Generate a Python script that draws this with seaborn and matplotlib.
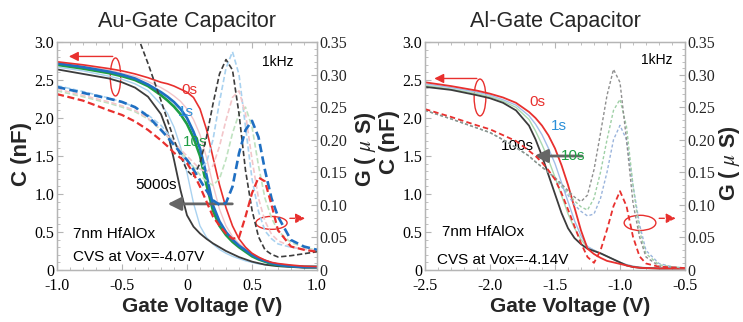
import numpy as np
import pandas as pd
import matplotlib
matplotlib.use("Agg")
import matplotlib.pyplot as plt
import seaborn as sns
from matplotlib.patches import Ellipse
from matplotlib.ticker import MultipleLocator

# ------------------------------------------------------------------ data
titles = ["Au-Gate Capacitor", "Al-Gate Capacitor"]
xticks_au = [-1.0, -0.5, 0.0, 0.5, 1.0]
xticklabels_au = ["-1.0", "-0.5", "0", "0.5", "1.0"]
xticks_al = [-2.5, -2.0, -1.5, -1.0, -0.5]
xticklabels_al = ["-2.5", "-2.0", "-1.5", "-1.0", "-0.5"]
cticks = [0, 0.5, 1.0, 1.5, 2.0, 2.5, 3.0]
cticklabels = ["0", "0.5", "1.0", "1.5", "2.0", "2.5", "3.0"]
gticks = [0, 0.05, 0.10, 0.15, 0.20, 0.25, 0.30, 0.35]
gticklabels = ["0", "0.05", "0.10", "0.15", "0.20", "0.25", "0.30", "0.35"]

# Au gate (left) -- gate voltage grid
V_au = [-1.0, -0.8, -0.6, -0.5, -0.4, -0.3, -0.2, -0.15, -0.1, -0.05, 0.0, 0.05, 0.1, 0.15,
        0.2, 0.25, 0.3, 0.35, 0.4, 0.45, 0.5, 0.55, 0.6, 0.65, 0.7, 0.8, 0.9, 1.0]
C_au_0s = [2.74, 2.70, 2.65, 2.62, 2.58, 2.53, 2.47, 2.45, 2.42, 2.38, 2.34, 2.27, 2.12, 1.85,
           1.48, 1.12, 0.82, 0.58, 0.41, 0.30, 0.22, 0.17, 0.13, 0.10, 0.085, 0.065, 0.05, 0.045]
C_au_1s = [2.72, 2.67, 2.61, 2.57, 2.52, 2.44, 2.34, 2.28, 2.21, 2.12, 2.00, 1.82, 1.60, 1.25,
           0.85, 0.64, 0.50, 0.40, 0.32, 0.26, 0.20, 0.15, 0.12, 0.09, 0.07, 0.05, 0.04, 0.04]
C_au_10s = [2.70, 2.65, 2.59, 2.55, 2.50, 2.42, 2.30, 2.23, 2.15, 2.05, 1.92, 1.74, 1.50, 1.12,
            0.78, 0.58, 0.46, 0.37, 0.30, 0.24, 0.18, 0.14, 0.11, 0.08, 0.065, 0.05, 0.04, 0.04]
C_au_100s = [2.67, 2.62, 2.55, 2.51, 2.45, 2.36, 2.18, 2.06, 1.88, 1.62, 1.28, 0.88, 0.58, 0.43,
             0.34, 0.27, 0.22, 0.18, 0.15, 0.12, 0.10, 0.08, 0.07, 0.06, 0.05, 0.04, 0.04, 0.035]
C_au_1000s = [2.73, 2.69, 2.63, 2.59, 2.55, 2.48, 2.40, 2.35, 2.29, 2.22, 2.12, 1.98, 1.78, 1.48,
              1.12, 0.80, 0.58, 0.44, 0.35, 0.28, 0.22, 0.17, 0.13, 0.10, 0.08, 0.06, 0.05, 0.045]
C_au_5000s = [2.64, 2.58, 2.52, 2.47, 2.40, 2.28, 2.05, 1.82, 1.45, 1.05, 0.72, 0.57, 0.48, 0.41,
              0.35, 0.30, 0.25, 0.21, 0.17, 0.14, 0.11, 0.09, 0.07, 0.06, 0.05, 0.04, 0.03, 0.03]
G_au_0s = [0.270, 0.260, 0.245, 0.238, 0.228, 0.215, 0.199, 0.190, 0.180, 0.172, 0.164, 0.148,
           0.128, 0.105, 0.082, 0.068, 0.056, 0.048, 0.050, 0.082, 0.118, 0.142, 0.136, 0.100,
           0.061, 0.036, 0.031, 0.028]
G_au_1s = [0.281, 0.272, 0.263, 0.258, 0.250, 0.236, 0.215, 0.204, 0.192, 0.180, 0.169, 0.154,
           0.138, 0.122, 0.107, 0.100, 0.103, 0.128, 0.179, 0.215, 0.229, 0.204, 0.153, 0.110,
           0.082, 0.046, 0.036, 0.031]
G_au_5000s = [np.nan, np.nan, np.nan, np.nan, 0.370, 0.317, 0.260, 0.230, 0.200, 0.175, 0.153,
              0.143, 0.164, 0.204, 0.255, 0.301, 0.323, 0.307, 0.240, 0.153, 0.092, 0.051,
              0.031, 0.024, 0.020, 0.022, 0.025, 0.028]
G_au_100s = [0.283, 0.274, 0.264, 0.258, 0.250, 0.238, 0.222, 0.210, 0.195, 0.180, 0.168, 0.158,
             0.155, 0.165, 0.200, 0.258, 0.310, 0.335, 0.300, 0.220, 0.140, 0.090, 0.060, 0.048,
             0.040, 0.035, 0.032, 0.030]
G_au_10s = [0.275, 0.266, 0.256, 0.250, 0.243, 0.232, 0.215, 0.205, 0.195, 0.183, 0.170, 0.158,
            0.146, 0.136, 0.130, 0.140, 0.170, 0.210, 0.240, 0.250, 0.220, 0.160, 0.110, 0.080,
            0.060, 0.042, 0.035, 0.030]
G_au_1000s = [0.278, 0.268, 0.258, 0.252, 0.245, 0.233, 0.216, 0.206, 0.196, 0.185, 0.175, 0.165,
              0.155, 0.150, 0.160, 0.190, 0.230, 0.265, 0.275, 0.240, 0.170, 0.110, 0.075, 0.055,
              0.045, 0.036, 0.032, 0.030]

# Al gate (right)
V_al = [-2.5, -2.3, -2.1, -2.0, -1.9, -1.8, -1.7, -1.65, -1.6, -1.55, -1.5, -1.45, -1.4, -1.35,
        -1.3, -1.25, -1.2, -1.15, -1.1, -1.05, -1.0, -0.95, -0.9, -0.85, -0.8, -0.7, -0.6, -0.5]
C_al_0s = [2.47, 2.42, 2.36, 2.32, 2.27, 2.20, 2.08, 2.00, 1.90, 1.77, 1.60, 1.38, 1.12, 0.82,
           0.52, 0.28, 0.21, 0.16, 0.12, 0.10, 0.08, 0.06, 0.04, 0.03, 0.025, 0.02, 0.02, 0.02]
C_al_1s = [2.45, 2.40, 2.34, 2.30, 2.24, 2.17, 2.03, 1.92, 1.78, 1.60, 1.40, 1.15, 0.90, 0.65,
           0.45, 0.31, 0.26, 0.22, 0.18, 0.14, 0.10, 0.07, 0.05, 0.035, 0.03, 0.02, 0.02, 0.02]
C_al_10s = [2.43, 2.38, 2.32, 2.28, 2.22, 2.14, 1.98, 1.83, 1.65, 1.45, 1.22, 0.98, 0.74, 0.55,
            0.40, 0.30, 0.26, 0.22, 0.18, 0.14, 0.10, 0.07, 0.05, 0.035, 0.03, 0.02, 0.02, 0.02]
C_al_100s = [2.41, 2.37, 2.30, 2.26, 2.20, 2.10, 1.90, 1.72, 1.50, 1.25, 1.00, 0.75, 0.55, 0.42,
             0.34, 0.28, 0.25, 0.22, 0.18, 0.14, 0.10, 0.06, 0.04, 0.03, 0.025, 0.02, 0.02, 0.02]
G_al_0s = [0.247, 0.235, 0.222, 0.216, 0.207, 0.198, 0.183, 0.175, 0.165, 0.153, 0.139, 0.118,
           0.093, 0.067, 0.041, 0.020, 0.011, 0.030, 0.062, 0.098, 0.121, 0.098, 0.051, 0.021,
           0.010, 0.005, 0.004, 0.003]
G_al_1s = [0.245, 0.232, 0.218, 0.211, 0.200, 0.188, 0.175, 0.166, 0.158, 0.150, 0.140, 0.128,
           0.115, 0.100, 0.090, 0.083, 0.086, 0.110, 0.150, 0.200, 0.222, 0.200, 0.130, 0.070,
           0.030, 0.010, 0.005, 0.003]
G_al_10s = [0.245, 0.232, 0.218, 0.211, 0.200, 0.188, 0.175, 0.166, 0.158, 0.150, 0.141, 0.130,
            0.119, 0.106, 0.097, 0.092, 0.110, 0.150, 0.200, 0.245, 0.262, 0.220, 0.130, 0.060,
            0.025, 0.008, 0.005, 0.003]
G_al_100s = [0.245, 0.232, 0.218, 0.211, 0.200, 0.188, 0.175, 0.166, 0.158, 0.150, 0.142, 0.132,
             0.122, 0.112, 0.105, 0.115, 0.154, 0.210, 0.268, 0.308, 0.288, 0.200, 0.103, 0.051,
             0.020, 0.006, 0.004, 0.003]

# ------------------------------------------------------------------ style
sns.set_style("ticks")
plt.rcParams["font.family"] = ["Liberation Sans", "DejaVu Sans"]
plt.rcParams["mathtext.fontset"] = "stix"

RED = "#e8302e"
BLUE = "#1f6fc2"
GREEN = "#1e9e44"
DARK = "#3c3c3c"
LBLUE = "#a9d2f0"
LPINK = "#f3c6ca"
LGREEN = "#bfe2c0"
SPINE = "#b5b5b5"
SERIF = ["Liberation Serif", "DejaVu Serif"]

fig = plt.figure(figsize=(7.43, 3.22), dpi=100)
axL = fig.add_axes([57 / 743, 52 / 322, 260 / 743, 228 / 322])
axR = fig.add_axes([425 / 743, 52 / 322, 260 / 743, 228 / 322])
axL2 = axL.twinx()
axR2 = axR.twinx()


def line(ax, x, y, color, lw, dashed=False, dash=(3.2, 1.6)):
    df = pd.DataFrame({"V": x, "y": y})
    sns.lineplot(data=df, x="V", y="y", ax=ax, color=color, lw=lw,
                 legend=False, sort=False, estimator=None)
    if dashed:
        ax.lines[-1].set_dashes(dash)


# ---- left panel
line(axL, V_au, C_au_100s, LBLUE, 1.0)
line(axL, V_au, C_au_1000s, LPINK, 1.0)
line(axL, V_au, C_au_5000s, DARK, 1.3)
line(axL, V_au, C_au_10s, GREEN, 1.9)
line(axL, V_au, C_au_1s, BLUE, 1.9)
line(axL, V_au, C_au_0s, RED, 1.2)
line(axL2, V_au, G_au_100s, LBLUE, 1.2, dashed=True)
line(axL2, V_au, G_au_10s, LGREEN, 1.2, dashed=True)
line(axL2, V_au, G_au_1000s, LPINK, 1.2, dashed=True)
line(axL2, V_au, G_au_5000s, DARK, 1.2, dashed=True)
line(axL2, V_au, G_au_1s, BLUE, 1.9, dashed=True)
line(axL2, V_au, G_au_0s, RED, 1.6, dashed=True)

# ---- right panel
line(axR, V_al, C_al_10s, "#a9d9ae", 1.0)
line(axR, V_al, C_al_1s, "#a3bfe8", 1.0)
line(axR, V_al, C_al_100s, DARK, 1.3)
line(axR, V_al, C_al_0s, RED, 1.3)
line(axR2, V_al, G_al_1s, "#9ab4dc", 1.0, dashed=True, dash=(2.2, 1.6))
line(axR2, V_al, G_al_10s, "#9fd0a6", 1.0, dashed=True, dash=(2.2, 1.6))
line(axR2, V_al, G_al_100s, "#8f8f8f", 1.0, dashed=True, dash=(2.2, 1.6))
line(axR2, V_al, G_al_0s, RED, 1.3, dashed=True, dash=(3.0, 1.8))

# ---- axes formatting
for ax, ax2, xt, xtl, xl in [(axL, axL2, xticks_au, xticklabels_au, (-1.0, 1.0)),
                             (axR, axR2, xticks_al, xticklabels_al, (-2.5, -0.5))]:
    ax.set_xlim(*xl)
    ax.set_ylim(0, 3.0)
    ax2.set_ylim(0, 0.35)
    ax.set_xticks(xt)
    ax.set_xticklabels(xtl, fontfamily=SERIF, fontsize=11.5)
    ax.set_yticks(cticks)
    ax.set_yticklabels(cticklabels, fontfamily=SERIF, fontsize=11.5)
    ax2.set_yticks(gticks)
    ax2.set_yticklabels(gticklabels, fontfamily=SERIF, fontsize=11.5)
    ax.xaxis.set_minor_locator(MultipleLocator(0.1))
    ax.yaxis.set_minor_locator(MultipleLocator(0.1))
    ax2.yaxis.set_minor_locator(MultipleLocator(0.01))
    ax.tick_params(axis="x", which="both", direction="in", top=True, color=SPINE,
                   pad=6, labelcolor="black")
    ax.tick_params(axis="y", which="both", direction="in", right=False, color=SPINE,
                   pad=2, labelcolor="black")
    ax2.tick_params(axis="y", which="both", direction="in", color=SPINE, pad=2)
    ax.tick_params(which="major", length=4, width=0.8)
    ax.tick_params(which="minor", length=2.2, width=0.6)
    ax2.tick_params(which="major", length=4, width=0.8)
    ax2.tick_params(which="minor", length=2.2, width=0.6)
    for a in (ax, ax2):
        for s in a.spines.values():
            s.set_color(SPINE)
            s.set_linewidth(0.9)
    ax.set_xlabel("Gate Voltage (V)", fontsize=15, fontweight="bold")
    ax.xaxis.set_label_coords(0.56, -0.118)
    ax.set_ylabel("C (nF)", fontsize=16, fontweight="bold")
    ax2.set_ylabel(r"G ( $\mu$ S)", fontsize=15.5, fontweight="bold", rotation=90)
    ax.grid(False)
    ax2.grid(False)

axL.yaxis.set_label_coords(-0.096, 0.51)
axR.yaxis.set_label_coords(-0.096, 0.56)
axL2.yaxis.set_label_coords(1.138, 0.53)
axR2.yaxis.set_label_coords(1.125, 0.47)
axL.set_title(titles[0], fontsize=15.5, pad=11)
axR.set_title(titles[1], fontsize=15.5, pad=11)

# ---- annotations, left
TXT = 11
axL.add_patch(Ellipse((-0.55, 2.54), 0.08, 0.5, fill=False, ec=RED, lw=1.0))
axL.annotate("", xy=(-0.93, 2.81), xytext=(-0.55, 2.81),
             arrowprops=dict(arrowstyle="-|>", color=RED, lw=1.0, mutation_scale=14))
axL.add_patch(Ellipse((0.65, 0.62), 0.24, 0.17, fill=False, ec=RED, lw=1.0))
axL.annotate("", xy=(0.93, 0.68), xytext=(0.77, 0.68),
             arrowprops=dict(arrowstyle="-|>", color=RED, lw=1.0, ls="--", mutation_scale=14))
axL.annotate("", xy=(-0.17, 0.87), xytext=(0.37, 0.87),
             arrowprops=dict(arrowstyle="-|>", color="#666666", lw=2.0, mutation_scale=20))
axL.text(0.02, 2.37, "0s", color=RED, fontsize=TXT, ha="center", va="center")
axL.text(-0.01, 2.08, "1s", color="#2a8fd8", fontsize=TXT, ha="center", va="center")
axL.text(0.06, 1.69, "10s", color=GREEN, fontsize=TXT, ha="center", va="center")
axL.text(-0.24, 1.12, "5000s", color="black", fontsize=TXT, ha="center", va="center")
axL.text(0.70, 2.74, "1kHz", color="black", fontsize=10, ha="center", va="center")
axL.text(-0.88, 0.48, "7nm HfAlOx", color="black", fontsize=TXT, ha="left", va="center")
axL.text(-0.88, 0.17, "CVS at Vox=-4.07V", color="black", fontsize=TXT, ha="left", va="center")

# ---- annotations, right
axR.add_patch(Ellipse((-2.077, 2.27), 0.09, 0.485, fill=False, ec=RED, lw=1.0))
axR.annotate("", xy=(-2.45, 2.52), xytext=(-2.08, 2.52),
             arrowprops=dict(arrowstyle="-|>", color=RED, lw=1.0, mutation_scale=14))
axR.add_patch(Ellipse((-0.846, 0.62), 0.244, 0.2, fill=False, ec=RED, lw=1.0))
axR.annotate("", xy=(-0.55, 0.68), xytext=(-0.72, 0.68),
             arrowprops=dict(arrowstyle="-|>", color=RED, lw=1.0, ls="--", mutation_scale=14))
axR.annotate("", xy=(-1.68, 1.5), xytext=(-1.27, 1.5),
             arrowprops=dict(arrowstyle="-|>", color="#666666", lw=2.0, mutation_scale=20))
axR.text(-1.635, 2.21, "0s", color=RED, fontsize=TXT, ha="center", va="center")
axR.text(-1.47, 1.90, "1s", color="#2a8fd8", fontsize=TXT, ha="center", va="center")
axR.text(-1.79, 1.63, "100s", color="black", fontsize=TXT, ha="center", va="center")
axR.text(-1.36, 1.50, "10s", color=GREEN, fontsize=TXT, ha="center", va="center")
axR.text(-0.72, 2.76, "1kHz", color="black", fontsize=10, ha="center", va="center")
axR.text(-2.37, 0.50, "7nm HfAlOx", color="black", fontsize=TXT, ha="left", va="center")
axR.text(-2.41, 0.13, "CVS at Vox=-4.14V", color="black", fontsize=TXT, ha="left", va="center")

fig.savefig("out.png", dpi=100)
